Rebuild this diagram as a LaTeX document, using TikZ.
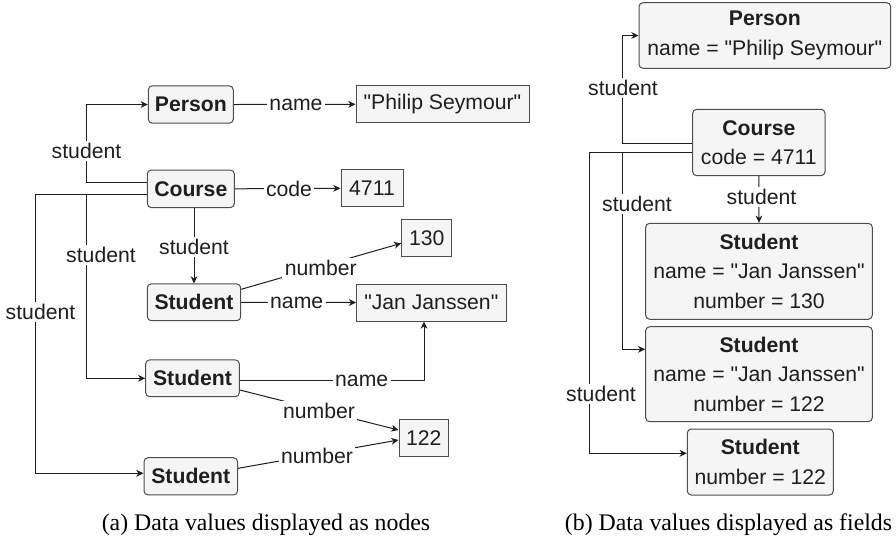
\documentclass[tikz,border=0pt]{standalone}
\usepackage{fontspec}
\setmainfont{Liberation Serif}
\setsansfont{Liberation Sans}[Ligatures=TeXOff]
\usetikzlibrary{arrows.meta}
\definecolor{boxfill}{HTML}{F5F5F5}
\definecolor{boxline}{HTML}{4D4D4D}
\definecolor{inkline}{HTML}{1F1F1F}
\begin{document}
\begin{tikzpicture}[x=0.5pt,y=-0.5pt,
  every node/.style={font=\sffamily\fontsize{10.6}{14.8}\selectfont, text=inkline},
  ebox/.style={draw=boxline, fill=boxfill, rounded corners=2pt, line width=0.5pt, inner sep=0pt,
    font=\sffamily\bfseries\fontsize{10.6}{14.8}\selectfont},
  vbox/.style={draw=boxline, fill=boxfill, line width=0.5pt, inner sep=0pt},
  fbox/.style={draw=boxline, fill=boxfill, rounded corners=2pt, line width=0.5pt, inner sep=0pt, align=center},
  edge/.style={draw=inkline, line width=0.5pt, -{Stealth[length=3.6pt,width=3.4pt,inset=1.1pt]}},
  elabel/.style={fill=white, inner sep=1.2pt},
  caption/.style={font=\rmfamily\fontsize{11.9}{13.5}\selectfont, text=black}]
\useasboundingbox (0,0) rectangle (896,543);

% ---------- (a) data values as separate nodes ----------
\node[ebox, minimum width=42.5pt, minimum height=18.7pt] (pa)  at (190.8,104.5) {Person};
\node[ebox, minimum width=43.5pt, minimum height=18.8pt] (ca)  at (190.8,188.8) {Course};
\node[ebox, minimum width=46.7pt, minimum height=18.4pt] (sa1) at (194,302.3) {Student};
\node[ebox, minimum width=46.8pt, minimum height=18.4pt] (sa2) at (192.5,378.3) {Student};
\node[ebox, minimum width=46.8pt, minimum height=18.6pt] (sa3) at (190.8,476.3) {Student};

\node[vbox, minimum width=86.5pt, minimum height=18.4pt] (va1) at (442.5,104.3) {"Philip Seymour"};
\node[vbox, minimum width=31pt,   minimum height=18.4pt] (va2) at (372,188.3) {4711};
\node[vbox, minimum width=25pt,   minimum height=18.7pt] (va3) at (426.7,238) {130};
\node[vbox, minimum width=74.7pt, minimum height=18.5pt] (va4) at (431.3,302.5) {"Jan Janssen"};
\node[vbox, minimum width=24.7pt, minimum height=18.4pt] (va5) at (423.7,437.7) {122};

\draw[edge] ([yshift=3.25pt]ca.west) -| ([xshift=-30.9pt]pa.west) -- (pa.west);
\draw[edge] (pa.east) -- (va1.west);
\draw[edge] (ca.east) -- (va2.west);
\draw[edge] ([xshift=1.6pt]ca.south) -- (sa1.north);
\draw[edge] ([yshift=-2.75pt]ca.west) -| ([xshift=-29.6pt]sa2.west) -- (sa2.west);
\draw[edge] ([yshift=-2.75pt]ca.west) -| ([xshift=-54.25pt,yshift=1.5pt]sa3.west) -- ([yshift=1.5pt]sa3.west);
\draw[edge] ([yshift=6.5pt]sa1.east) -- ([yshift=-2.65pt]va3.west);
\draw[edge] (sa1.east) -- (va4.west);
\draw[edge] ([yshift=-1.2pt]sa2.east) -| ([xshift=-3.65pt]va4.south);
\draw[edge] ([yshift=-5.85pt]sa2.east) -- ([yshift=3.85pt]va5.west);
\draw[edge] ([yshift=4pt]sa3.east) -- ([yshift=-1.15pt]va5.west);

\node[elabel] (la1)  at (86.5,150.7) {student};
\node[elabel] (la2)  at (296,104.5) {name};
\node[elabel] (la3)  at (289,188.5) {code};
\node[elabel] (la4)  at (194,247.3) {student};
\node[elabel] (la5)  at (101,255) {student};
\node[elabel] (la6)  at (40.5,312) {student};
\node[elabel] (la7)  at (320.8,268) {number};
\node[elabel] (la8)  at (296.7,302.4) {name};
\node[elabel] (la9)  at (361.7,380.5) {name};
\node[elabel] (la10) at (319,411) {number};
\node[elabel] (la11) at (317,456) {number};

% ---------- (b) data values as fields ----------
\node[fbox, minimum width=125.85pt, minimum height=32.8pt] (pb)  at (764.85,35.5)
  {\textbf{Person}\\name = "Philip Seymour"};
\node[fbox, minimum width=66.15pt, minimum height=33.2pt] (cb)  at (758.85,142.5)
  {\textbf{Course}\\code = 4711};
\node[fbox, minimum width=113.3pt, minimum height=48pt] (sb1) at (759,271.3)
  {\textbf{Student}\\name = "Jan Janssen"\\number = 130};
\node[fbox, minimum width=113.3pt, minimum height=47.5pt] (sb2) at (759,374.2)
  {\textbf{Student}\\name = "Jan Janssen"\\number = 122};
\node[fbox, minimum width=73pt, minimum height=33pt] (sb3) at (760.3,462)
  {\textbf{Student}\\number = 122};

\draw[edge] ([yshift=-0.4pt]cb.west) -| ([xshift=-8.15pt]pb.west) -- (pb.west);
\draw[edge] (cb.south) -- (sb1.north);
\draw[edge] ([yshift=-5.1pt]cb.west) -| ([xshift=-11.5pt,yshift=12.45pt]sb2.west) -- ([yshift=12.45pt]sb2.west);
\draw[edge] ([yshift=-5.1pt]cb.west) -| ([xshift=-48.65pt,yshift=4.35pt]sb3.west) -- ([yshift=4.35pt]sb3.west);

\node[elabel] (lb1) at (623,88.3) {student};
\node[elabel] (lb2) at (761.5,196.7) {student};
\node[elabel] (lb3) at (637,204) {student};
\node[elabel] (lb4) at (601,394) {student};

% ---------- captions ----------
\node[caption] (capa) at (266,525) {(a) Data values displayed as nodes};
\node[caption] (capb) at (728.5,525) {(b) Data values displayed as fields};
\end{tikzpicture}
\end{document}
